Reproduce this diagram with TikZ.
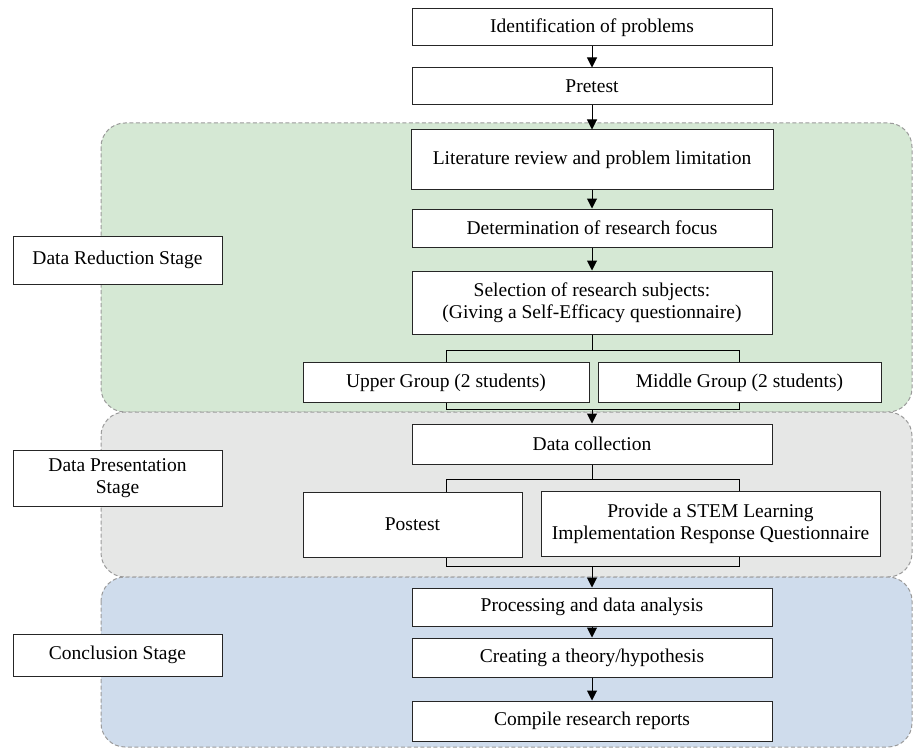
\documentclass[tikz,border=0pt]{standalone}
\usepackage{fontspec}
\setmainfont{Liberation Serif}
\usetikzlibrary{arrows.meta}
\definecolor{greenbg}{RGB}{213,232,212}
\definecolor{graybg}{RGB}{230,231,230}
\definecolor{bluebg}{RGB}{207,220,236}
\definecolor{dashc}{RGB}{155,155,155}
\begin{document}
\begin{tikzpicture}[x=1pt,y=-1pt,
  panel/.style={draw=dashc, dash pattern=on 4pt off 2.5pt, line width=1pt, rounded corners=24pt},
  box/.style={draw=black!85, line width=1pt, fill=white, align=center, inner sep=1pt,
              font=\fontsize{19.5}{22}\selectfont},
  arr/.style={-{Triangle[width=10pt,length=10pt]}, line width=1pt},
  ln/.style={line width=1pt}]
\useasboundingbox (0,0) rectangle (913,749);

% stage panels
\path[panel, fill=greenbg] (101,123) rectangle (912,412);
\path[panel, fill=graybg] (101,412) rectangle (912,577);
\path[panel, fill=bluebg] (101,577) rectangle (912,747);

% main flow
\node[box, minimum width=360pt, minimum height=37pt] (ident) at (592,27.5) {Identification of problems};
\node[box, minimum width=360pt, minimum height=37pt] (pretest) at (592,86.5) {Pretest};
\node[box, minimum width=362pt, minimum height=59pt] (lit) at (592,159.5) {Literature review and problem limitation};
\node[box, minimum width=360pt, minimum height=38pt] (det) at (592,228) {Determination of research focus};
\node[box, minimum width=360pt, minimum height=63pt] (sel) at (592,302.5) {Selection of research subjects:\\(Giving a Self-Efficacy questionnaire)};
\node[box, minimum width=286pt, minimum height=40pt] (upper) at (446,382.5) {Upper Group (2 students)};
\node[box, minimum width=283pt, minimum height=40pt] (middle) at (739.5,382.5) {Middle Group (2 students)};
\node[box, minimum width=360pt, minimum height=40pt] (dc) at (592,444) {Data collection};
\node[box, minimum width=219pt, minimum height=65pt] (postest) at (412.5,524.5) {Postest};
\node[box, minimum width=339pt, minimum height=65pt] (stem) at (710.5,523.5) {Provide a STEM Learning\\Implementation Response Questionnaire};
\node[box, minimum width=360pt, minimum height=38pt] (proc) at (592,607) {Processing and data analysis};
\node[box, minimum width=360pt, minimum height=39pt] (creat) at (592,657.5) {Creating a theory/hypothesis};
\node[box, minimum width=360pt, minimum height=40pt] (comp) at (592,721) {Compile research reports};

% stage labels
\node[box, minimum width=209pt, minimum height=48pt] (red) at (117.5,260) {Data Reduction Stage};
\node[box, minimum width=209pt, minimum height=56pt] (pres) at (117.5,478) {Data Presentation\\Stage};
\node[box, minimum width=209pt, minimum height=42pt] (concl) at (117.5,655) {Conclusion Stage};

% arrows
\draw[arr] (ident) -- (pretest);
\draw[arr] (pretest) -- (lit);
\draw[arr] (lit) -- (det);
\draw[arr] (det) -- (sel);
\draw[arr] (proc) -- (creat);
\draw[arr] (creat) -- (comp);

% split / merge around groups
\coordinate (s1) at (592,350);
\coordinate (m1) at (592,409);
\draw[ln] (sel.south) -- (s1);
\draw[ln] (upper.north) -- (upper.north |- s1) -- (middle.north |- s1) -- (middle.north);
\draw[ln] (upper.south) -- (upper.south |- m1) -- (middle.south |- m1) -- (middle.south);
\draw[arr] (m1) -- (dc.north);

% split / merge around postest and questionnaire
\coordinate (s2) at (592,479);
\coordinate (m2) at (592,566);
\draw[ln] (dc.south) -- (s2);
\draw[ln] (postest.north -| upper.north) -- (upper.north |- s2) -- (middle.north |- s2) -- (stem.north -| middle.north);
\draw[ln] (postest.south -| upper.south) -- (upper.south |- m2) -- (middle.south |- m2) -- (stem.south -| middle.south);
\draw[arr] (m2) -- (proc.north);
\end{tikzpicture}
\end{document}
